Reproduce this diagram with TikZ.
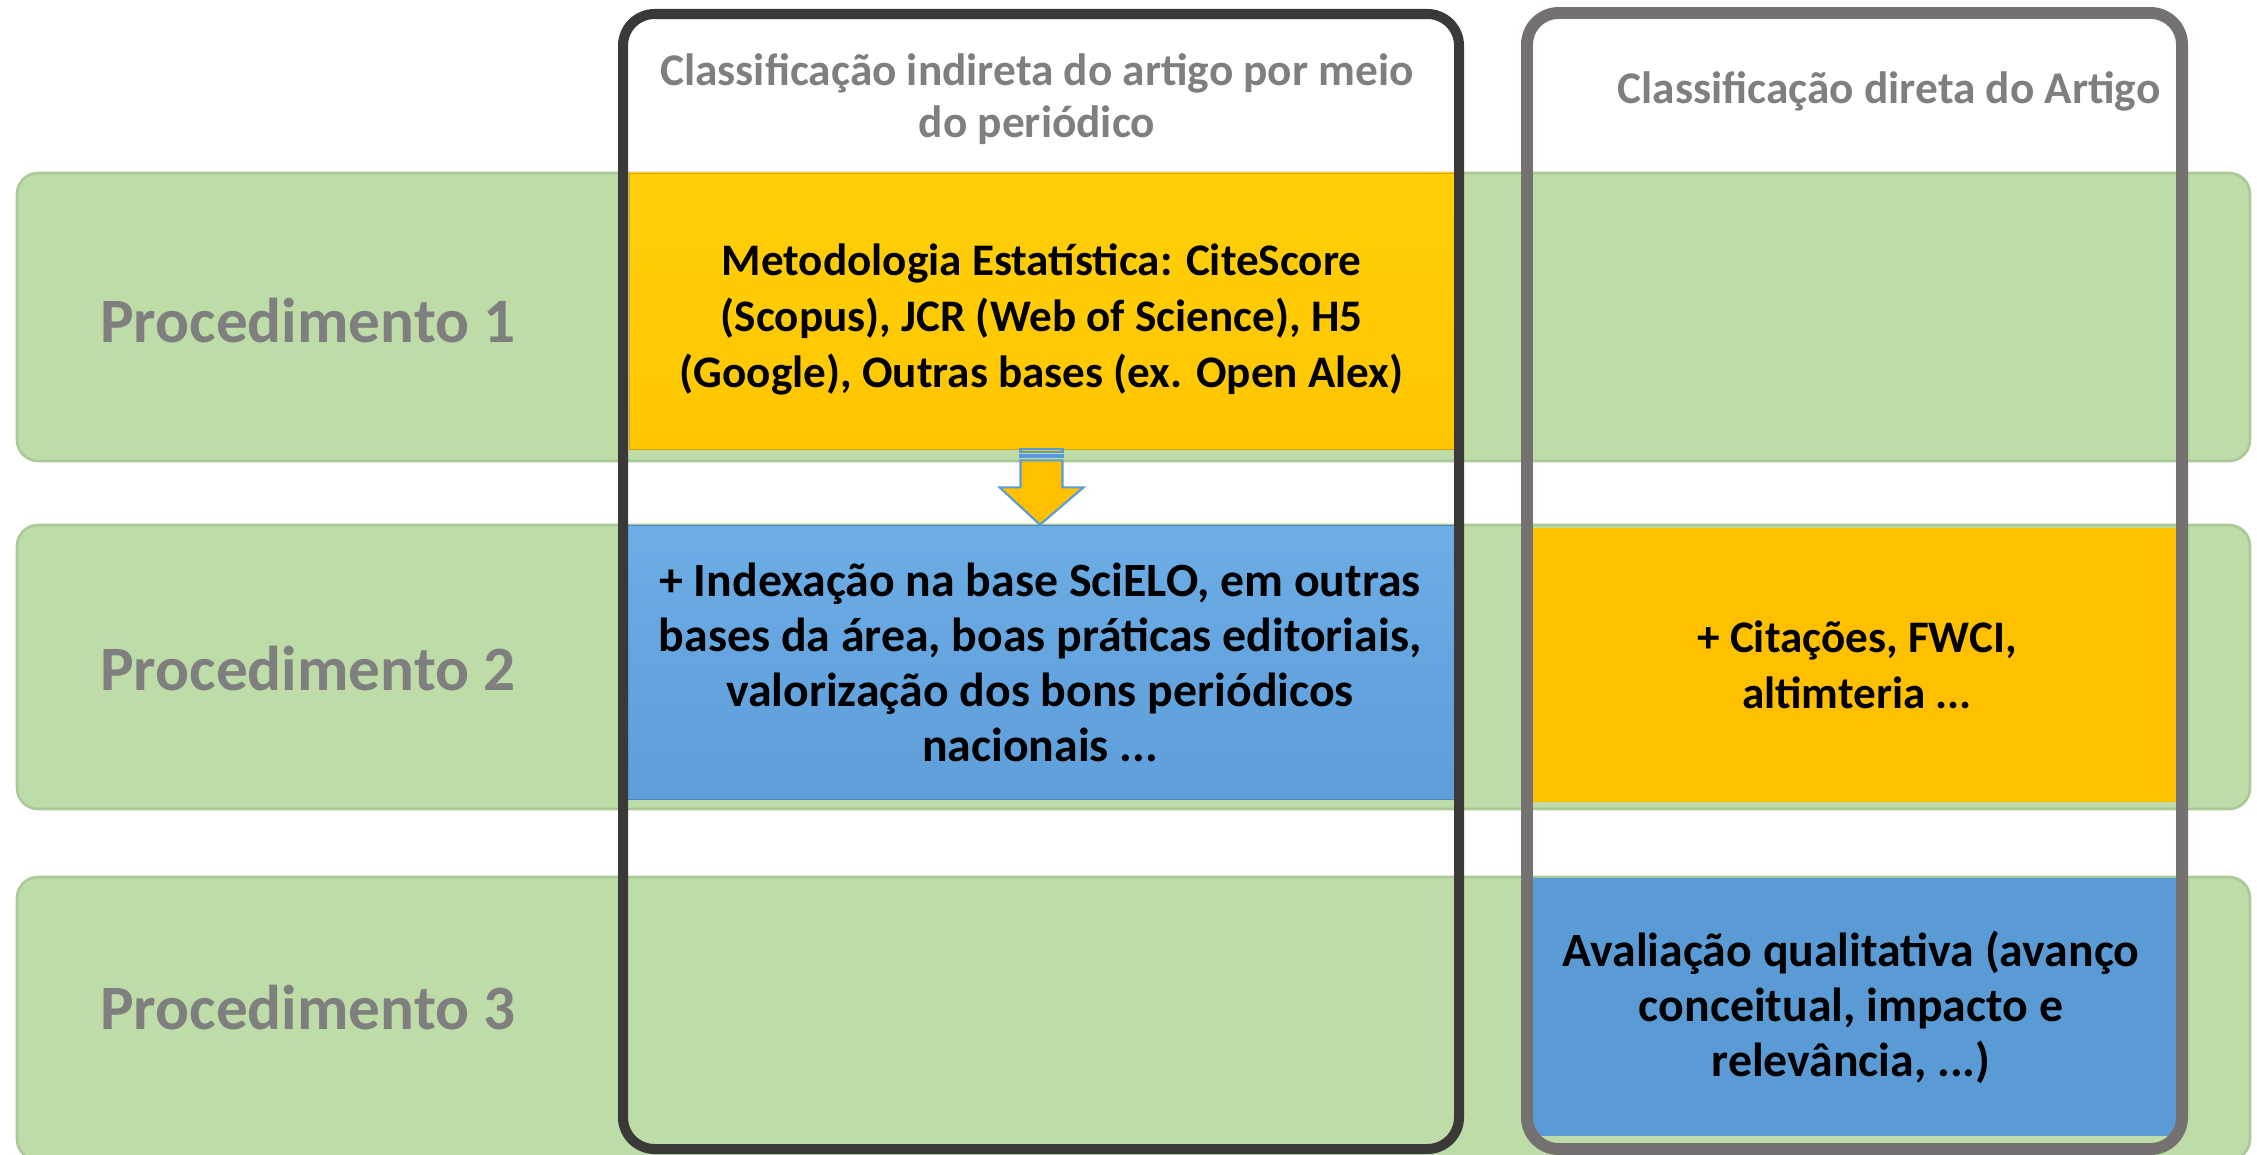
\documentclass[tikz,border=0pt]{standalone}
\usepackage{fontspec}
\setmainfont{Carlito}
\usepackage{xcolor}
\usetikzlibrary{calc,fit}
\definecolor{bandgreen}{HTML}{BDDCA7}
\definecolor{bandedge}{HTML}{ABC897}
\definecolor{proctext}{HTML}{7F7F7F}
\definecolor{inddark}{HTML}{3B3838}
\definecolor{dirgray}{HTML}{767171}
\definecolor{yeltop}{HTML}{FFD00A}
\definecolor{yelbot}{HTML}{FFC600}
\definecolor{yeledge}{HTML}{D9A300}
\definecolor{bluetop}{HTML}{6CADE6}
\definecolor{bluebot}{HTML}{5E9ED9}
\definecolor{blueedge}{HTML}{4F86BD}
\definecolor{orangebox}{HTML}{FFC000}
\definecolor{bluebox}{HTML}{5B9BD5}

\begin{document}
\begin{tikzpicture}[x=0.02cm,y=-0.02cm,
    band/.style={draw=bandedge, line width=1.5pt, fill=bandgreen, rounded corners=12pt, inner sep=0pt},
    proc/.style={text=proctext, font=\bfseries\fontsize{36}{43}\selectfont},
    head/.style={text=proctext, align=center, font=\bfseries\fontsize{25.8}{30}\selectfont},
    cell/.style={align=center, inner sep=0pt, font=\bfseries\fontsize{25.7}{31.9}\selectfont},
    bigcell/.style={cell, font=\bfseries\fontsize{27.2}{31.3}\selectfont},
    colind/.style={draw=inddark, line width=5.7pt, rounded corners=18pt},
    coldir/.style={draw=dirgray, line width=6.8pt, rounded corners=18pt}]
  \useasboundingbox (0,0) rectangle (2257,1155);
  \node[band, fit={(17,173) (2250,461)}] (band1) {};
  \node[band, fit={(17,525) (2250,809)}] (band2) {};
  \node[band, fit={(17,877) (2250,1160)}] (band3) {};
  \node[proc] (proc1) at (308,321) {Procedimento 1};
  \node[proc] (proc2) at (308,669) {Procedimento 2};
  \node[proc] (proc3) at (308,1008) {Procedimento 3};
  \node[fit={(629,173) (1454,449)}, inner sep=0pt, top color=yeltop, bottom color=yelbot, draw=yeledge] (ind1) {};
  \node[cell] (ind1text) at ($(ind1.center)+(0,8)$)
    {Metodologia Estatística: CiteScore\\(Scopus), JCR (Web of Science), H5\\(Google), Outras bases (ex. Open Alex)};
  \node[bigcell, minimum width=16.56cm, minimum height=5.48cm, top color=bluetop, bottom color=bluebot, draw=blueedge] (ind2) at (1040,662)
    {+ Indexação na base SciELO, em outras\\bases da área, boas práticas editoriais,\\valorização dos bons periódicos\\nacionais ...};
  \node[cell, minimum width=12.96cm, minimum height=5.48cm, fill=orangebox] (dir2) at (1857,665)
    {+ Citações, FWCI,\\altimteria ...};
  \node[bigcell, minimum width=13cm, minimum height=5.18cm, fill=bluebox] (dir3) at (1851,1007)
    {Avaliação qualitativa (avanço\\conceitual, impacto e\\relevância, ...)};
  \filldraw[fill=orangebox, draw=bluebox, line width=1.2pt]
    ($(ind1.south)+(-21,11)$) -- ($(ind1.south)+(21,11)$) -- ($(ind1.south)+(21,38)$) -- ($(ind1.south)+(42,38)$)
    -- (ind2.north) -- ($(ind1.south)+(-42,38)$) -- ($(ind1.south)+(-21,38)$) -- cycle;
  \filldraw[fill=orangebox, draw=bluebox, line width=1.2pt] ($(ind1.south)+(-21,0)$) rectangle ($(ind1.south)+(21,3)$);
  \filldraw[fill=orangebox, draw=bluebox, line width=1.2pt] ($(ind1.south)+(-21,6)$) rectangle ($(ind1.south)+(21,8)$);
  \draw[colind] (623,14) rectangle (1459,1149);
  \draw[coldir] (1527,13) rectangle (2182,1149);
  \node[head] (headind) at (1037,99) {Classificação indireta do artigo por meio\\do periódico};
  \node[head] (headdir) at (1889,91) {Classificação direta do Artigo};
\end{tikzpicture}
\end{document}
